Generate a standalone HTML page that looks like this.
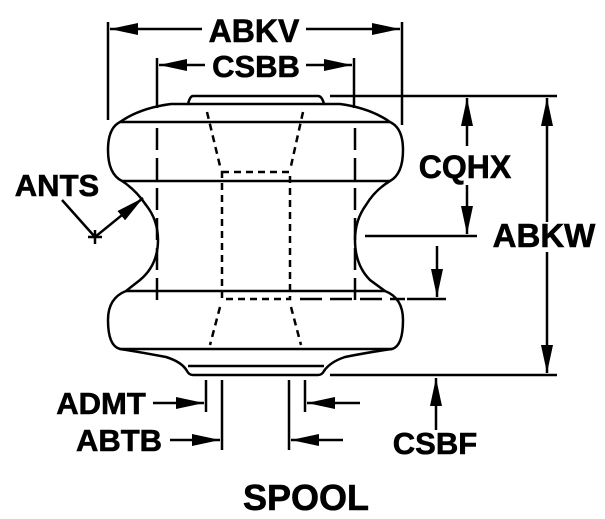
<!DOCTYPE html>
<html><head><style>html,body{margin:0;padding:0;background:#fff}svg{display:block}text{font-family:"Liberation Sans",sans-serif;font-weight:bold;fill:#000;stroke:#000;stroke-width:0.6}</style></head>
<body>
<svg width="605" height="519" viewBox="0 0 605 519" xmlns="http://www.w3.org/2000/svg">
<defs>
<marker id="b" markerWidth="28" markerHeight="12" refX="28" refY="6" orient="auto" markerUnits="userSpaceOnUse"><path d="M0,0 L28,6 L0,12z" fill="#000"/></marker></defs>
<g stroke="#000" stroke-width="2.5" fill="none">
<path d="M193,96 L318,96 Q322,96 324,104 L340,104 Q370,108 390,122 Q403,128 403,150 Q403,174 390,181 Q375,190 366,205 Q355,220 355,240 Q355,265 370,280 L385,291 Q403,298 403,320 Q403,346 392,349 Q370,352 345,357 Q330,362 324,371 Q322,375 318,375 L193,375 Q189,375 187,371 Q182,362 166,357 Q140,352 120,349 Q108,346 108,320 Q108,298 126,291 L140,280 Q158,265 158,240 Q158,220 146,205 Q136,190 122,181 Q108,174 108,150 Q108,128 120,122 Q140,108 171,104 L188,104 Q190,96 193,96Z"/>
<path d="M188,104H324 M120,122H390 M122,181H390 M126,291H385 M120,349H392 M188,366H324"/>
<g stroke-width="2.5" stroke-dasharray="7,5">
<path d="M222,172H290V299H222Z"/>
<path d="M207,112L220,166 M303,112L291,166 M220,307L210,345 M291,307L301,345"/>
</g>
<g stroke-width="2.5" stroke-dasharray="22,8">
<path d="M157,128V300 M355,128V300"/>
<path d="M300,299H405"/>
</g>
<path d="M108,22V120 M402,22V125 M157,58V108 M354,58V108"/>
<path d="M206,380V412 M222,380V450 M289,380V450 M305,380V412" stroke-width="2.5"/>
<path d="M330,96H557 M330,375H557 M365,236H477 M407,299H446" stroke-width="2.5"/>
<g stroke-width="2.5">
<path d="M202,29H110" marker-end="url(#b)"/><path d="M306,29H400" marker-end="url(#b)"/>
<path d="M205,65H159" marker-end="url(#b)"/><path d="M306,65H352" marker-end="url(#b)"/>
<path d="M547,222V98" marker-end="url(#b)"/><path d="M547,252V373" marker-end="url(#b)"/>
<path d="M467,146V98" marker-end="url(#b)"/><path d="M467,185V234" marker-end="url(#b)"/>
<path d="M437,246V297" marker-end="url(#b)"/>
<path d="M436,430V378" marker-end="url(#b)"/>
<path d="M153,403H204" marker-end="url(#b)"/><path d="M360,403H307" marker-end="url(#b)"/>
<path d="M170,440H220" marker-end="url(#b)"/><path d="M343,440H291" marker-end="url(#b)"/>
<path d="M62,200L95,237" /><path d="M95,237L143,198" marker-end="url(#b)"/>
<path d="M88,237H102 M95,230V244"/>
</g>
</g>
<text x="254" y="42" font-size="32" text-anchor="middle">ABKV</text>
<text x="256" y="77" font-size="31" text-anchor="middle">CSBB</text>
<text x="57" y="196" font-size="31" text-anchor="middle">ANTS</text>
<text x="465" y="178" font-size="32" text-anchor="middle">CQHX</text>
<text x="544" y="247" font-size="33" text-anchor="middle">ABKW</text>
<text x="101" y="414" font-size="31" text-anchor="middle">ADMT</text>
<text x="119" y="451" font-size="31" text-anchor="middle">ABTB</text>
<text x="435" y="454" font-size="31" text-anchor="middle">CSBF</text>
<text x="306" y="510" font-size="36" text-anchor="middle">SPOOL</text>
</svg>
</body></html>
